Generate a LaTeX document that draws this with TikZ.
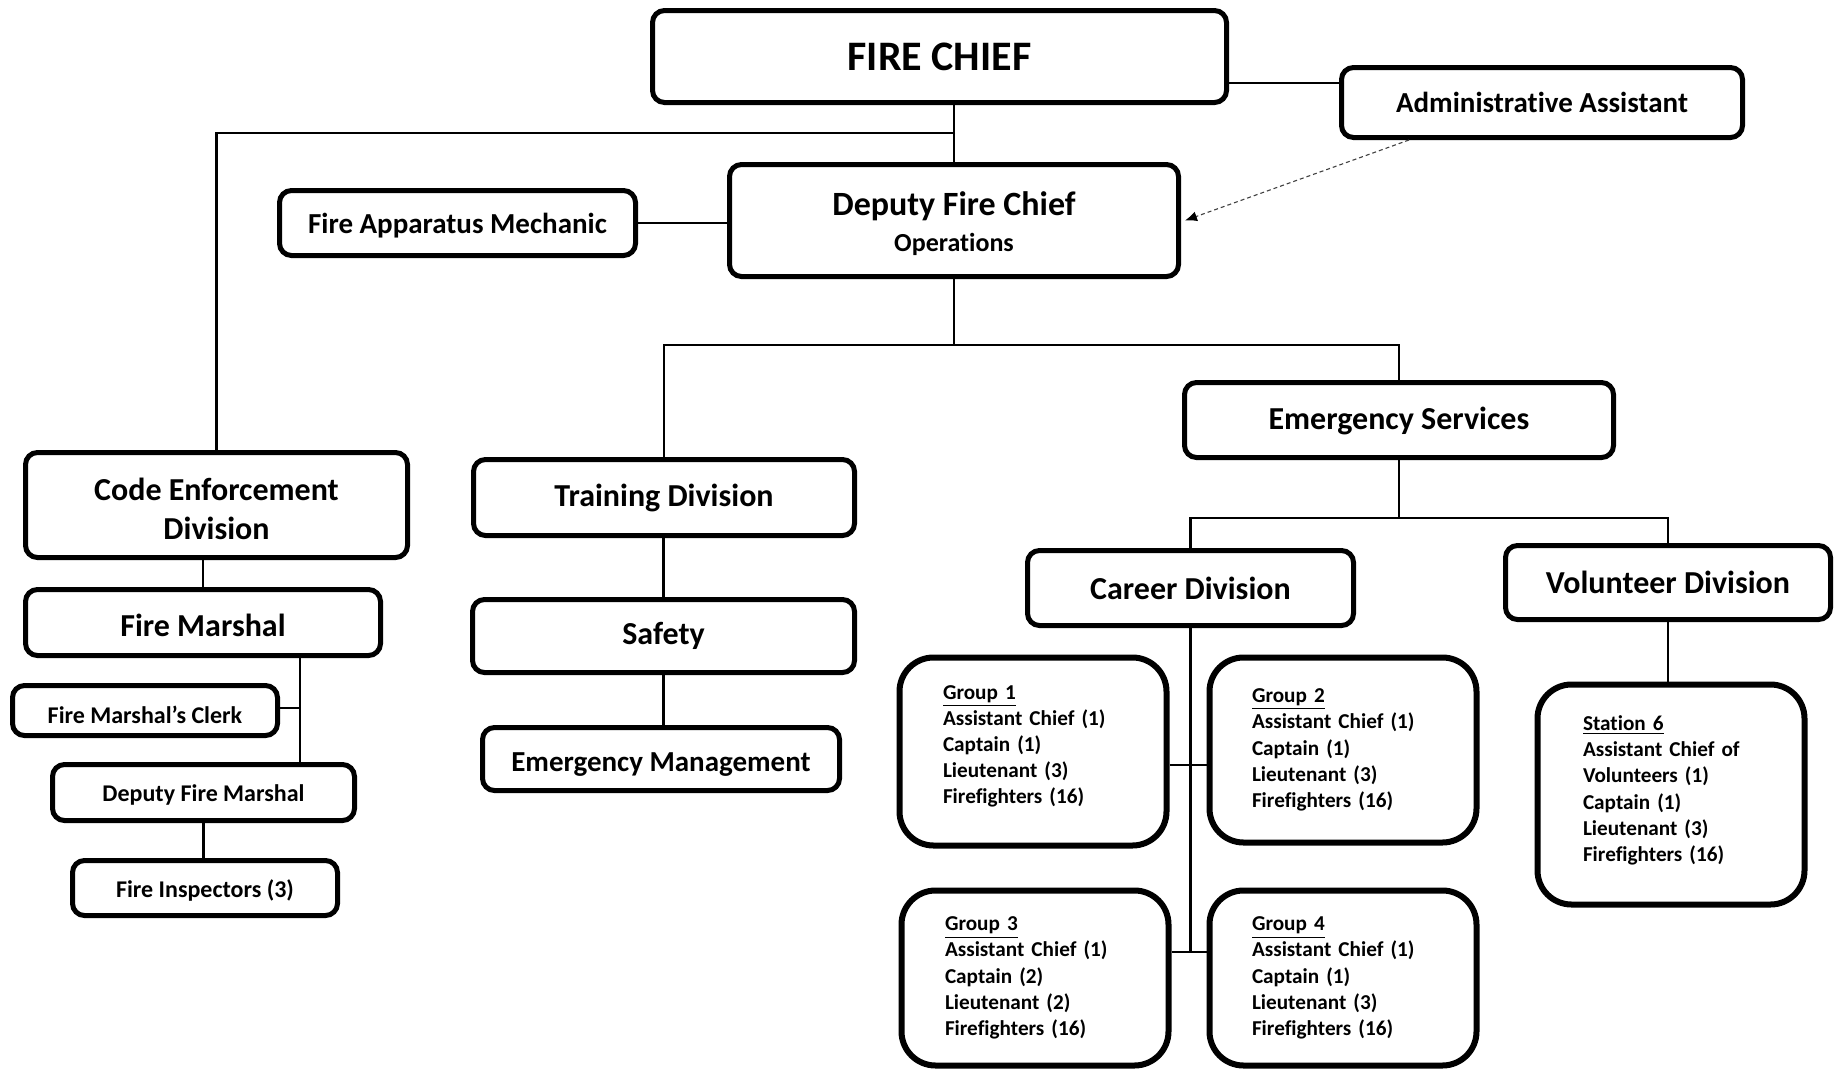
\documentclass[tikz,border=0pt]{standalone}
\usepackage{fontspec}
\setmainfont{Carlito}[Ligatures=NoCommon]
\usetikzlibrary{arrows.meta}
\newcommand\fschief{\fontsize{21}{25}\selectfont}
\newcommand\fsdep{\fontsize{17}{20}\selectfont}
\newcommand\fsops{\fontsize{13}{16}\selectfont}
\newcommand\fsmain{\fontsize{16}{19.3}\selectfont}
\newcommand\fsmid{\fontsize{14.5}{17}\selectfont}
\newcommand\fssmall{\fontsize{12}{14}\selectfont}
\newcommand\fsgrp{\fontsize{10.6}{13.1}\selectfont}
% extra depth below the last line of a list, to lift the block a little
\newcommand\liftby[1]{\rule[-#1]{0pt}{0pt}}
\begin{document}
\begin{tikzpicture}[x=0.5pt,y=-0.5pt,
  box/.style={draw, line width=2.5pt, rounded corners=6pt, fill=white,
    align=center, inner sep=2pt, font=\bfseries},
  grp/.style={draw, line width=3pt, rounded corners=17pt, fill=white,
    align=left, inner sep=2pt, font=\fsgrp\bfseries},
  drop/.style={text height=#1, text depth=0pt},
  link/.style={line width=1.3pt},
  dotlink/.style={line width=0.55pt, black!75, dash pattern=on 2pt off 1.5pt,
    -{Latex[length=6pt,width=5pt,black]}}]
\useasboundingbox (0,0) rectangle (1837,1071);

% top level
\node[box, minimum width=287pt, minimum height=46pt, font=\fschief\bfseries]
  (chief) at (939.5,56.5) {FIRE CHIEF};
\node[box, minimum width=200.5pt, minimum height=35pt, font=\fsmid\bfseries]
  (admin) at (1542,102.5) {Administrative Assistant};
\node[box, minimum width=224.5pt, minimum height=56pt, drop=30.7pt]
  (deputy) at (954,220.5) {{\fsdep Deputy Fire Chief}\\[5.65pt]{\fsops Operations}};
\node[box, minimum width=178pt, minimum height=32.5pt, font=\fsmid\bfseries,
  drop=10.8pt]
  (mech) at (457.5,223) {Fire Apparatus Mechanic};

% code enforcement branch
\node[box, minimum width=191pt, minimum height=52.5pt, font=\fsmain\bfseries,
  drop=34.5pt]
  (code) at (216.5,505) {Code Enforcement\\Division};
\node[box, minimum width=177.5pt, minimum height=33pt, font=\fsmain\bfseries,
  drop=13.9pt]
  (marshal) at (203,622.5) {Fire Marshal};
\node[box, minimum width=132.5pt, minimum height=25pt, font=\fssmall\bfseries,
  drop=13.2pt]
  (clerk) at (145,710.5) {Fire Marshal’s Clerk};
\node[box, minimum width=151pt, minimum height=28pt, font=\fssmall\bfseries,
  drop=8.6pt]
  (dfm) at (203.5,792.5) {Deputy Fire Marshal};
\node[box, minimum width=132.5pt, minimum height=27.5pt, font=\fssmall\bfseries,
  drop=9pt]
  (insp) at (205,888) {Fire Inspectors (3)};

% training branch
\node[box, minimum width=190.5pt, minimum height=38pt, font=\fsmain\bfseries]
  (train) at (664,497.5) {Training Division};
\node[box, minimum width=191pt, minimum height=36.5pt, font=\fsmain\bfseries]
  (safety) at (663.5,636) {Safety};
\node[box, minimum width=178.5pt, minimum height=31.5pt, font=\fsmid\bfseries,
  drop=12.2pt]
  (emgmt) at (661,759) {Emergency Management};

% emergency services branch
\node[box, minimum width=214.5pt, minimum height=37.5pt, font=\fsmain\bfseries,
  drop=9.5pt]
  (emsvc) at (1399,420) {Emergency Services};
\node[box, minimum width=163pt, minimum height=37.5pt, font=\fsmain\bfseries]
  (career) at (1190.5,588) {Career Division};
\node[box, minimum width=162.5pt, minimum height=37pt, font=\fsmain\bfseries]
  (vol) at (1668,582.5) {Volunteer Division};

\node[grp, minimum width=133.5pt, minimum height=94pt, text width=90pt]
  (g1) at (1033,751.5)
  {\underline{Group 1}\\Assistant Chief (1)\\Captain (1)\\Lieutenant (3)\\Firefighters (16)\liftby{7pt}};
\node[grp, minimum width=133.5pt, minimum height=92.5pt, text width=91pt]
  (g2) at (1343,750)
  {\underline{Group 2}\\Assistant Chief (1)\\Captain (1)\\Lieutenant (3)\\Firefighters (16)};
\node[grp, minimum width=133.5pt, minimum height=87.5pt, text width=90pt]
  (g3) at (1035,978)
  {\underline{Group 3}\\Assistant Chief (1)\\Captain (2)\\Lieutenant (2)\\Firefighters (16)};
\node[grp, minimum width=133.5pt, minimum height=87.5pt, text width=91pt]
  (g4) at (1343,978)
  {\underline{Group 4}\\Assistant Chief (1)\\Captain (1)\\Lieutenant (3)\\Firefighters (16)};
\node[grp, minimum width=133.5pt, minimum height=110pt, text width=88pt]
  (station) at (1671,794.5)
  {\underline{Station 6}\\Assistant Chief of\\Volunteers (1)\\Captain (1)\\Lieutenant (3)\\Firefighters (16)\liftby{5.9pt}};

% junction points
\coordinate (jc) at (955,133);
\coordinate (jd) at (954,345);
\coordinate (je) at (1399,518);
\coordinate (jm) at (300,708);
\coordinate (jg1) at (1190,765);
\coordinate (jg2) at (1190,952);

% connectors
\draw[link] (deputy.north) -- (deputy.north |- chief.south);
\draw[link] (jc) -| (code.north);
\draw[link] (chief.east |- 0,83) -- (admin.west |- 0,83);
\draw[link] (mech.east) -- (mech.east -| deputy.west);
\draw[link] (deputy.south) -- (jd);
\draw[link] (train.north) |- (jd) -| (emsvc.north);
\draw[link] (safety.north |- train.south) -- (safety.north);
\draw[link] (safety.south) -- (safety.south |- emgmt.north);
\draw[link] (emsvc.south) -- (je);
\draw[link] (career.north) |- (je) -| (vol.north);
\draw[link] (vol.south) -- (vol.south |- station.north);
\draw[link] (career.south) -- (career.south |- jg2);
\draw[link] (g1.east |- jg1) -- (g2.west |- jg1);
\draw[link] (g3.east |- jg2) -- (g4.west |- jg2);
\draw[link] (marshal.north) -- (marshal.north |- code.south);
\draw[link] (marshal.south -| jm) -- (dfm.north -| jm);
\draw[link] (clerk.east |- jm) -- (jm);
\draw[link] (dfm.south) -- (dfm.south |- insp.north);
\draw[dotlink] ([xshift=35pt]admin.south west) -- ([xshift=2pt]deputy.east);
\end{tikzpicture}
\end{document}
